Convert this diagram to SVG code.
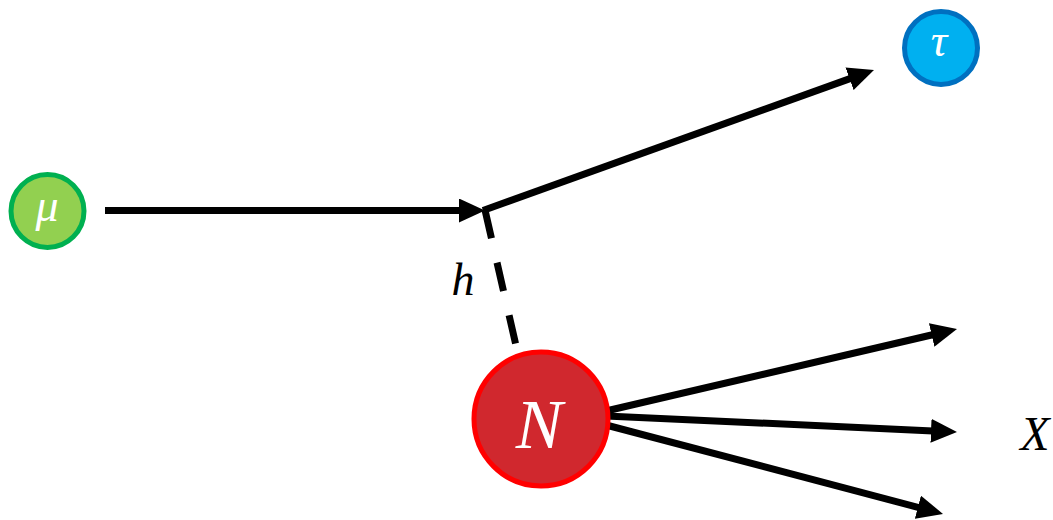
<svg xmlns="http://www.w3.org/2000/svg" width="1053" height="520" viewBox="0 0 1053 520">
<style>
.ln{stroke:#000;stroke-width:7;fill:none}
.arr{marker-end:url(#ah)}
.lbl{font-family:"Liberation Serif","DejaVu Serif",serif;font-style:italic}
.w{fill:#fff}
</style>
<defs>
<marker id="ah" markerUnits="userSpaceOnUse" markerWidth="26" markerHeight="24" refX="2" refY="12" orient="auto">
<path d="M0,0 L26,12 L0,24 z" fill="#000"/>
</marker>
</defs>
<g id="connectors">
<line class="ln arr" x1="105" y1="210.5" x2="461" y2="210.5"/>
<line class="ln arr" x1="483" y1="210.5" x2="851.4" y2="78.1"/>
<line class="ln" x1="485" y1="210" x2="517" y2="350" stroke-dasharray="29,25"/>
<line class="ln arr" x1="606" y1="411" x2="933.6" y2="334.5"/>
<line class="ln arr" x1="606" y1="416" x2="933" y2="430.9"/>
<line class="ln arr" x1="606" y1="425" x2="919.8" y2="507.8"/>
</g>
<g id="mu">
<circle cx="47.5" cy="211" r="36.5" fill="#92D050" stroke="#00B050" stroke-width="5"/>
<text class="lbl w" x="47" y="221" font-size="46" text-anchor="middle">μ</text>
</g>
<g id="tau">
<circle cx="941" cy="48" r="36.5" fill="#00B0F0" stroke="#0070C0" stroke-width="5"/>
<text class="lbl w" x="939" y="56" font-size="46" text-anchor="middle">τ</text>
</g>
<g id="N">
<circle cx="541" cy="419" r="67" fill="#D0282E" stroke="#FF0000" stroke-width="5"/>
<text class="lbl w" x="539" y="448" font-size="70" text-anchor="middle">N</text>
</g>
<g id="h">
<text class="lbl" x="463" y="295" font-size="46" text-anchor="middle">h</text>
</g>
<g id="X">
<text class="lbl" x="1035" y="450" font-size="48" text-anchor="middle">X</text>
</g>
</svg>
